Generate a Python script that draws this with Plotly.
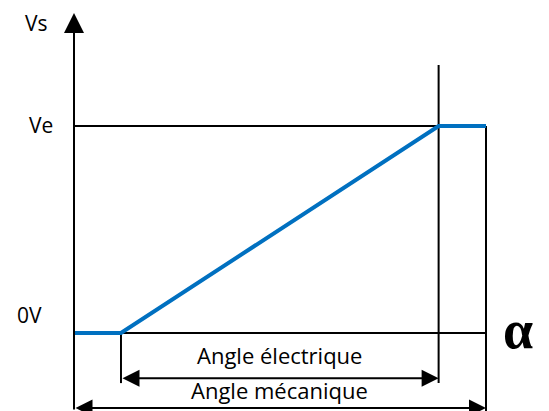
import plotly.graph_objects as go

# Data: mechanical angle (% of total travel) vs output voltage (in units of Ve)
alpha_pts = [0, 11.4, 88.5, 100]
vs_pts = [0, 0, 1, 1]
elec_start = 11.4
elec_end = 88.5
mech_start = 0
mech_end = 100
v_levels = [0, 1]
v_labels = ["0V", "Ve"]
axis_label_y = "Vs"
axis_label_x = "α"
elec_label = "Angle électrique"
mech_label = "Angle mécanique"

W, H = 541, 403
x_range = [-16.02, 115.29]
y_range = [-0.3768, 1.570]

BLACK = "#000000"
BLUE = "#0070C0"
FONT = "Open Sans"

fig = go.Figure()
fig.add_trace(go.Scatter(x=alpha_pts, y=vs_pts, mode="lines",
                         line=dict(color=BLUE, width=4), hoverinfo="skip",
                         showlegend=False))

shapes = []
def seg(x0, y0, x1, y1):
    shapes.append(dict(type="line", xref="x", yref="y", x0=x0, y0=y0, x1=x1, y1=y1,
                       line=dict(color=BLACK, width=2), layer="below"))

y_bottom = y_range[0]
y_top_arrow = 1.546
y_elec_dim = -0.218
y_mech_dim = -0.362
# level lines
for v in v_levels:
    seg(mech_start, v, mech_end, v)
# verticals
seg(elec_start, 0, elec_start, -0.242)
seg(elec_end, -0.242, elec_end, 1.295)
seg(mech_end, 1, mech_end, y_bottom)

annotations = []
# y axis arrow
annotations.append(dict(x=mech_start, y=y_top_arrow, ax=mech_start, ay=y_bottom,
                        xref="x", yref="y", axref="x", ayref="y", text="",
                        showarrow=True, arrowhead=2, arrowsize=2, arrowwidth=2,
                        arrowcolor=BLACK, standoff=0))
# dimension arrows
for (xa, xb, yy) in [(elec_start, elec_end, y_elec_dim), (mech_start, mech_end, y_mech_dim)]:
    annotations.append(dict(x=xb, y=yy, ax=xa, ay=yy,
                            xref="x", yref="y", axref="x", ayref="y", text="",
                            showarrow=True, arrowhead=2, startarrowhead=2,
                            arrowside="end+start", arrowsize=1.7, startarrowsize=1.7,
                            arrowwidth=2, arrowcolor=BLACK, standoff=0, startstandoff=0))

txt = dict(family=FONT, size=22, color=BLACK)
annotations.append(dict(x=(elec_start + elec_end) / 2, y=-0.106, xref="x", yref="y",
                        text=elec_label, showarrow=False, font=txt))
annotations.append(dict(x=(elec_start + elec_end) / 2, y=-0.275, xref="x", yref="y",
                        text=mech_label, showarrow=False, font=txt))
lab = dict(family=FONT, size=21, color=BLACK)
annotations.append(dict(x=-9.22, y=1.498, xref="x", yref="y", text=axis_label_y,
                        showarrow=False, font=lab))
annotations.append(dict(x=-8.0, y=1.005, xref="x", yref="y", text=v_labels[1],
                        showarrow=False, font=lab))
annotations.append(dict(x=-10.9, y=0.087, xref="x", yref="y", text=v_labels[0],
                        showarrow=False, font=lab))
annotations.append(dict(x=107.8, y=0.015, xref="x", yref="y", text="<b>" + axis_label_x + "</b>",
                        showarrow=False,
                        font=dict(family="Liberation Serif, DejaVu Serif, serif", size=54, color=BLACK)))

fig.update_layout(
    width=W, height=H, margin=dict(l=0, r=0, t=0, b=0),
    paper_bgcolor="white", plot_bgcolor="white",
    xaxis=dict(range=x_range, visible=False, fixedrange=True),
    yaxis=dict(range=y_range, visible=False, fixedrange=True),
    shapes=shapes, annotations=annotations, showlegend=False,
)
fig.write_html("out.html")
